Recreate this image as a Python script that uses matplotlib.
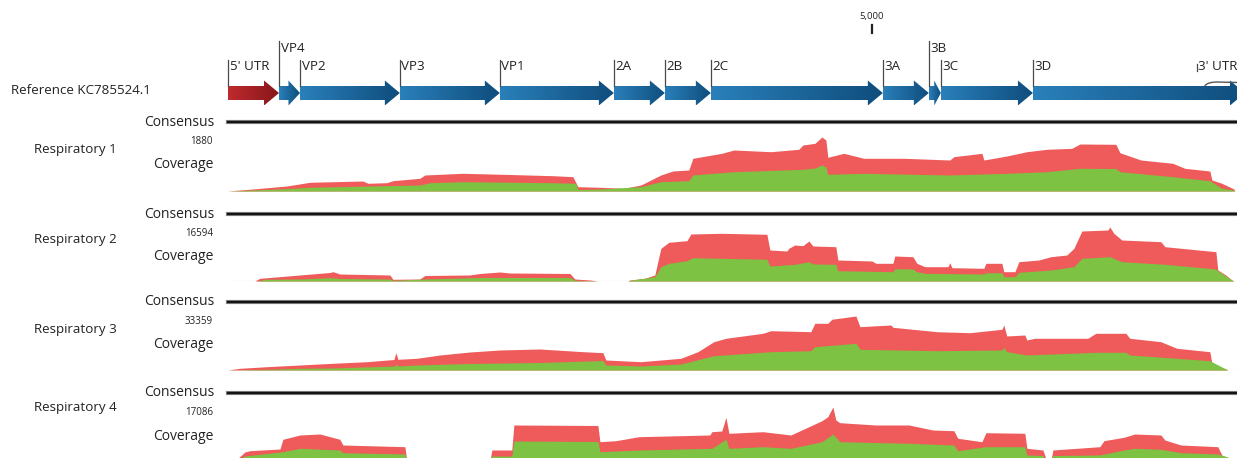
import numpy as np
import matplotlib
matplotlib.use("Agg")
import matplotlib.pyplot as plt
from matplotlib.patches import Polygon, PathPatch
from matplotlib.path import Path
from matplotlib.lines import Line2D
from matplotlib.colors import LinearSegmentedColormap

plt.rcParams["font.family"] = ["Open Sans", "DejaVu Sans"]

# ---------------------------------------------------------------- data
reference_name = "Reference KC785524.1"
view_end = 7833                      # last nucleotide shown at the right edge

gene_names = ["5' UTR", "VP4", "VP2", "VP3", "VP1", "2A", "2B", "2C",
              "3A", "3B", "3C", "3D"]
gene_starts = [1, 397, 560, 1335, 2111, 2996, 3392, 3749, 5084, 5441, 5534, 6249]
gene_ends = [396, 559, 1334, 2110, 2995, 3391, 3748, 5083, 5440, 5533, 6248, 7894]
utr3_name = "3' UTR"
utr3_start = 7522
ruler_ticks = [5000]

samples = ["Respiratory 1", "Respiratory 2", "Respiratory 3", "Respiratory 4"]
max_coverage = [1880, 16594, 33359, 17086]

# Respiratory 1: all reads / high-quality reads
r1_pos = [1, 194, 458, 636, 1048, 1087, 1234, 1281, 1490, 1529, 1824, 2135, 2523,
          2678, 2717, 2888, 3074, 3206, 3361, 3454, 3578, 3609, 3834, 3928, 4215,
          4432, 4463, 4557, 4611, 4642, 4657, 4781, 4937, 5255, 5604, 5635, 5853,
          5868, 6046, 6202, 6357, 6551, 6613, 6893, 6924, 7087, 7335, 7428, 7622,
          7638, 7715, 7809, 7815]
r1_all = [0, 70, 174, 303, 348, 268, 289, 359, 442, 557, 616, 581, 533,
          498, 150, 129, 94, 209, 557, 696, 731, 1138, 1312, 1427, 1368,
          1452, 1601, 1660, 1880, 1775, 1173, 1312, 1138, 1138, 1079, 1194, 1312,
          1079, 1218, 1368, 1452, 1486, 1636, 1626, 1333, 1079, 964, 790, 696,
          383, 268, 70, 0]
r1_hq_pos = [1, 194, 481, 636, 1490, 1568, 1824, 2523, 2701, 2717, 2888, 3206,
             3361, 3578, 3609, 3928, 4463, 4557, 4611, 4642, 4657, 4937, 5604,
             6046, 6357, 6613, 6893, 6924, 7335, 7622, 7715, 7809, 7815]
r1_hq = [0, 35, 87, 129, 209, 289, 324, 289, 268, 52, 70, 150,
         324, 358, 557, 672, 755, 800, 905, 835, 581, 616, 557,
         616, 672, 790, 783, 672, 498, 358, 94, 35, 0]

# Respiratory 2
r2_pos = [1, 210, 248, 559, 792, 815, 869, 1257, 1281, 1490, 1529, 1878, 1956,
          2111, 2189, 2655, 2693, 2810, 2872, 3105, 3120, 3237, 3314, 3361, 3423,
          3563, 3594, 3834, 4184, 4207, 4339, 4354, 4401, 4463, 4510, 4541, 4719,
          4735, 4999, 5030, 5162, 5177, 5317, 5348, 5410, 5589, 5604, 5620, 5868,
          5884, 6008, 6023, 6109, 6140, 6295, 6388, 6512, 6567, 6629, 6831, 6846,
          6877, 6939, 7242, 7273, 7669, 7684, 7746, 7793, 7809]
r2_all = [0, 0, 830, 1844, 2612, 2858, 2151, 1844, 522, 615, 1690, 1844, 2305,
          2766, 2458, 2305, 615, 307, 0, 0, 307, 830, 1844, 10049, 11893,
          12384, 14443, 14658, 14351, 9526, 9219, 10049, 11063, 10848, 12292, 10756, 10540,
          6453, 6146, 5439, 5439, 7682, 7467, 5439, 4394, 4394, 5624, 4087, 3903,
          5439, 5439, 2858, 2858, 5931, 6453, 7467, 7990, 10049, 15365, 15672, 16594,
          14658, 12599, 12077, 10540, 9004, 3380, 1844, 307, 0]
r2_hq_pos = [1, 233, 287, 559, 792, 869, 1257, 1281, 1529, 1956, 2655, 2693, 2872,
             3105, 3120, 3314, 3361, 3423, 3563, 3609, 4184, 4207, 4401, 4510, 4541,
             4719, 4735, 5162, 5177, 5317, 5348, 5410, 5868, 5884, 6008, 6023, 6109,
             6140, 6388, 6567, 6629, 6846, 6939, 7273, 7669, 7684, 7746, 7793, 7809]
r2_hq = [0, 0, 522, 615, 1014, 768, 615, 215, 615, 1076, 1076, 215, 0,
         0, 215, 1321, 4394, 5439, 6238, 7160, 6668, 4610, 5132, 5931, 5224,
         5132, 3165, 2858, 3780, 3688, 2858, 2366, 2151, 2551, 2551, 1321, 1321,
         2674, 3380, 4394, 6976, 7467, 5931, 5132, 3688, 3165, 1537, 307, 0]

# Respiratory 3
r3_pos = [1, 93, 303, 559, 815, 1079, 1289, 1304, 1320, 1467, 1646, 1878, 2111,
          2422, 2732, 2911, 2934, 3206, 3516, 3648, 3772, 3866, 4153, 4215, 4525,
          4556, 4657, 4688, 4875, 4906, 5146, 5162, 5503, 5760, 6008, 6023, 6046,
          6186, 6202, 6264, 6675, 6737, 6970, 7001, 7242, 7366, 7622, 7638, 7715,
          7762]
r3_all = [0, 1050, 2039, 3089, 4139, 5128, 6487, 10688, 6610, 7228, 9267, 11120, 12356,
          12974, 11429, 10688, 6178, 5128, 7228, 11306, 17484, 19584, 22673, 24279, 23661,
          28851, 28851, 31322, 33359, 26751, 27801, 26380, 23661, 23044, 25144, 27801, 21005,
          21623, 18534, 19584, 19584, 22673, 22673, 19584, 17484, 13406, 11306, 4139, 1668,
          0]
r3_hq_pos = [1, 303, 559, 815, 1296, 1304, 1320, 1467, 1878, 2422, 2911, 2934, 3206,
             3516, 3772, 4215, 4525, 4556, 4875, 4906, 5503, 6008, 6023, 6046, 6202,
             6737, 6970, 7001, 7366, 7622, 7715, 7762]
r3_hq = [0, 432, 1050, 1236, 2471, 3707, 2471, 3089, 4016, 4634, 5869, 3089, 2471,
         3707, 8834, 11306, 11923, 14395, 16495, 12788, 11923, 12356, 14024, 11306, 9267,
         10935, 10935, 9267, 7228, 5745, 1853, 0]

# Respiratory 4
r4_pos = [1, 54, 132, 171, 404, 427, 559, 714, 869, 893, 1374, 1389, 2034, 2049,
          2204, 2220, 2872, 2888, 3012, 3190, 3741, 3757, 3834, 3866, 3889, 4153,
          4370, 4611, 4657, 4696, 4719, 4750, 5030, 5286, 5472, 5635, 5666, 5853,
          5884, 6186, 6202, 6326, 6357, 6388, 6404, 6481, 6768, 6800, 6955, 7040,
          7242, 7273, 7397, 7684, 7715, 7762, 7793]
r4_all = [0, 0, 2848, 3259, 3797, 6866, 8226, 8543, 6866, 5062, 4525, 0, 0, 3480,
          3480, 11390, 11232, 6107, 6423, 7689, 8226, 9270, 9492, 13827, 8764, 9270,
          8226, 12751, 14017, 17086, 12972, 12118, 11390, 11390, 9808, 9587, 7182, 6107,
          8954, 8764, 4018, 3480, 0, 0, 3480, 3702, 4525, 6423, 7499, 8543,
          8226, 6644, 5062, 4525, 1898, 949, 0]
r4_hq_pos = [1, 54, 132, 427, 559, 869, 893, 1374, 1389, 2034, 2049, 2204, 2220,
             2872, 2888, 3190, 3757, 3866, 3889, 4153, 4370, 4611, 4696, 4750, 5286,
             5635, 5666, 5884, 6186, 6202, 6326, 6357, 6388, 6404, 6768, 6955, 7040,
             7242, 7397, 7684, 7762, 7793]
r4_hq = [0, 0, 1582, 2942, 4018, 3480, 2626, 2215, 0, 0, 1582, 1582, 6328,
         6170, 2942, 3480, 4018, 6866, 4018, 4525, 4018, 6107, 8543, 6107, 5600,
         5062, 3259, 4525, 4525, 1898, 1740, 0, 0, 1740, 1898, 3480, 4018,
         3702, 2626, 2215, 1265, 0]

tracks = [(r1_pos, r1_all, r1_hq_pos, r1_hq),
          (r2_pos, r2_all, r2_hq_pos, r2_hq),
          (r3_pos, r3_all, r3_hq_pos, r3_hq),
          (r4_pos, r4_all, r4_hq_pos, r4_hq)]

# ---------------------------------------------------------------- layout
W, H = 1237, 458
DPI = 100
X0 = 228                                   # pixel column of nucleotide 1
consensus_y = [122, 214, 301.5, 393]
baseline_y = [191, 281, 370, 461]
sample_label_y = [150, 240, 329, 408]
COV_H = 54

RED = "#ef5a5a"
GREEN = "#7dc242"
TEXT = "#222222"
LABEL_FS = 9.6
blue_cmap = LinearSegmentedColormap.from_list("cds", ["#2a80bb", "#0f4d7c"])
red_cmap = LinearSegmentedColormap.from_list("utr", ["#be2b2e", "#86161a"])

fig = plt.figure(figsize=(W / DPI, H / DPI), dpi=DPI)
fig.patch.set_facecolor("white")


def fx(px):
    return px / W


def fy(py):
    return 1 - py / H


# annotation panel: x in nucleotides, y in pixel rows (top-down)
ax_ref = fig.add_axes([fx(X0), fy(110), 1 - fx(X0), 110 / H])
ax_ref.set_xlim(1, view_end)
ax_ref.set_ylim(110, 0)
ax_ref.axis("off")
nt_per_px = (view_end - 1) / (W - X0)

BODY_T, BODY_B, HEAD_T, HEAD_B, MID = 86, 100, 80.5, 105.5, 93
grad = np.linspace(0, 1, 256).reshape(1, -1)
for name, s, e in zip(gene_names, gene_starts, gene_ends):
    length = e - s + 1
    head = min(15 * nt_per_px, 0.55 * length)
    xe = e + 1
    pts = [(s, BODY_T), (xe - head, BODY_T), (xe - head, HEAD_T), (xe, MID),
           (xe - head, HEAD_B), (xe - head, BODY_B), (s, BODY_B)]
    poly = Polygon(pts, closed=True, facecolor="none", edgecolor="none")
    ax_ref.add_patch(poly)
    cmap = red_cmap if "UTR" in name else blue_cmap
    im = ax_ref.imshow(grad, cmap=cmap, extent=(s, xe, HEAD_B, HEAD_T),
                       aspect="auto", interpolation="bilinear")
    im.set_clip_path(poly)
    raised = name in ("VP4", "3B")
    top = 41 if raised else 60
    ty = 49 if raised else 66
    ax_ref.add_line(Line2D([s, s], [top, BODY_T], color="#4a4a4a", lw=0.9,
                           clip_on=False))
    ax_ref.text(s + 1.5 * nt_per_px, ty, name, fontsize=LABEL_FS, color=TEXT,
                ha="left", va="center", clip_on=False)

ax_ref.set_xlim(1, view_end)
ax_ref.set_ylim(110, 0)

# 3' UTR label with its bracket
ax_ref.add_line(Line2D([utr3_start, utr3_start], [64, 71], color="#4a4a4a", lw=0.9))
ax_ref.text(utr3_start + 1.5 * nt_per_px, 66, utr3_name, fontsize=LABEL_FS,
            color=TEXT, ha="left", va="center")
bracket = Path([(utr3_start + 60, 86), (utr3_start + 80, 82),
                (utr3_start + 160, 82), (view_end, 82.5)],
               [Path.MOVETO, Path.CURVE3, Path.CURVE3, Path.LINETO])
ax_ref.add_patch(PathPatch(bracket, facecolor="none", edgecolor="#555555", lw=1.0))

# ruler
for t in ruler_ticks:
    ax_ref.add_line(Line2D([t, t], [25, 32.5], color="#222222", lw=1.6))
    ax_ref.text(t, 17, f"{t:,}", fontsize=6.8, color=TEXT, ha="center", va="center")

fig.text(fx(11), fy(91), reference_name, fontsize=LABEL_FS, color=TEXT,
         ha="left", va="center")

# ---------------------------------------------------------------- coverage tracks
for i, (name, cmax, (pos, cov_all, hq_pos, cov_hq)) in enumerate(
        zip(samples, max_coverage, tracks)):
    cy = consensus_y[i]
    by = baseline_y[i]

    # consensus bar
    fig.add_artist(Line2D([fx(X0), 1], [fy(cy), fy(cy)], color="#8c8c8c", lw=3.0,
                          transform=fig.transFigure))
    fig.add_artist(Line2D([fx(X0), 1], [fy(cy), fy(cy)], color="#141414", lw=1.7,
                          transform=fig.transFigure))

    ax = fig.add_axes([fx(X0), fy(by), 1 - fx(X0), COV_H / H])
    ax.set_xlim(1, view_end)
    ax.set_ylim(0, cmax)
    ax.axis("off")
    ax.axhline(0, color="#eef0e4", lw=1.0, zorder=0)
    ax.fill_between(pos, 0, cov_all, color=RED, lw=0, zorder=1)
    ax.fill_between(hq_pos, 0, cov_hq, color=GREEN, lw=0, zorder=2)

    fig.text(fx(214), fy(cy), "Consensus", fontsize=LABEL_FS + 0.4, color=TEXT,
             ha="right", va="center")
    fig.text(fx(213), fy(cy + 19.5), f"{cmax}", fontsize=7, color=TEXT,
             ha="right", va="center")
    fig.text(fx(214), fy(cy + 43), "Coverage", fontsize=LABEL_FS + 0.4, color=TEXT,
             ha="right", va="center")
    fig.text(fx(34), fy(sample_label_y[i]), name, fontsize=LABEL_FS, color=TEXT,
             ha="left", va="center")

fig.savefig("out.png", dpi=DPI, facecolor="white")
